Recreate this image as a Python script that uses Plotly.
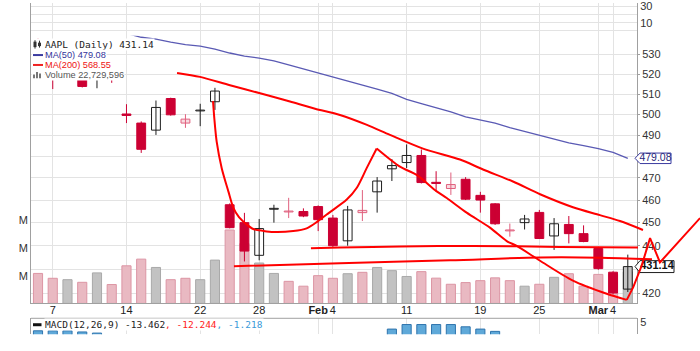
import math
import plotly.graph_objects as go

# ---------------- data ----------------
dates = ["2013-01-04", "2013-01-07", "2013-01-08", "2013-01-09", "2013-01-10", "2013-01-11",
         "2013-01-14", "2013-01-15", "2013-01-16", "2013-01-17", "2013-01-18", "2013-01-22",
         "2013-01-23", "2013-01-24", "2013-01-25", "2013-01-28", "2013-01-29", "2013-01-30",
         "2013-01-31", "2013-02-01", "2013-02-04", "2013-02-05", "2013-02-06", "2013-02-07",
         "2013-02-08", "2013-02-11", "2013-02-12", "2013-02-13", "2013-02-14", "2013-02-15",
         "2013-02-19", "2013-02-20", "2013-02-21", "2013-02-22", "2013-02-25", "2013-02-26",
         "2013-02-27", "2013-02-28", "2013-03-01", "2013-03-04", "2013-03-05"]

opens = [537.0, 526.0, 529.0, 522.5, 528.5, 520.5,
         500.2, 495.8, 492.4, 507.8, 495.8, 501.7,
         506.2, 457.9, 450.0, 435.9, 455.9, 454.7,
         454.9, 457.1, 452.0, 442.1, 454.4, 463.7,
         474.2, 477.1, 480.4, 468.0, 465.2, 469.4,
         462.1, 458.3, 446.4, 450.0, 454.5, 444.2,
         449.2, 445.2, 438.8, 428.8, 421.8]
highs = [538.6, 529.0, 530.0, 523.0, 529.0, 521.0,
         505.0, 496.6, 506.8, 508.2, 500.1, 505.2,
         513.1, 458.5, 454.3, 451.6, 457.9, 461.0,
         456.3, 457.6, 453.4, 457.4, 464.5, 470.4,
         478.7, 485.6, 483.2, 473.1, 472.5, 470.4,
         463.7, 458.6, 449.6, 453.4, 455.6, 452.0,
         452.9, 448.8, 439.5, 429.2, 436.2]
lows = [526.6, 512.5, 519.0, 513.3, 512.9, 515.6,
        495.8, 481.6, 490.1, 499.4, 493.5, 494.3,
        502.2, 447.5, 433.3, 433.8, 450.0, 452.0,
        452.4, 446.3, 439.5, 440.0, 450.7, 454.4,
        468.6, 474.6, 467.5, 463.7, 462.3, 460.0,
        454.4, 449.0, 443.9, 447.0, 443.0, 438.2,
        441.0, 441.5, 429.8, 419.6, 420.6]
closes = [527.0, 523.9, 525.3, 513.8, 523.5, 519.8,
          499.5, 483.3, 503.4, 499.8, 497.7, 502.1,
          511.5, 447.8, 437.7, 447.4, 456.3, 455.1,
          452.9, 451.3, 440.0, 455.6, 455.4, 468.6,
          475.7, 480.4, 467.9, 467.5, 467.0, 460.4,
          460.0, 449.5, 446.8, 451.6, 443.1, 449.5,
          445.2, 441.8, 430.3, 420.2, 431.14]
prior_close = 542.1

volumes = [21600000, 18100000, 17100000, 15200000, 22000000, 13600000,
           27100000, 31900000, 25900000, 17100000, 18100000, 17100000,
           31200000, 52900000, 43100000, 29100000, 21600000, 15900000,
           12400000, 20000000, 18100000, 21400000, 22400000, 25900000,
           23600000, 19400000, 22900000, 18200000, 13800000, 15000000,
           16400000, 18400000, 16400000, 12400000, 13800000, 18800000,
           21400000, 12400000, 20900000, 21000000, 22729596]

ma50 = [549.0, 547.8, 546.5, 545.2, 543.8, 542.2,
        541.0, 539.0, 538.0, 536.4, 535.1, 534.4,
        532.8, 530.8, 529.2, 528.2, 526.7, 524.7,
        522.7, 520.6, 518.6, 516.7, 514.7, 512.5,
        510.3, 507.4, 505.3, 503.3, 501.2, 498.8,
        497.2, 495.8, 493.6, 491.8, 489.9, 488.0,
        486.3, 485.0, 483.6, 481.8, 479.08]
ma200_last = 568.55

macd_hist = [3.5, 3.5, 3.5, 3.3, 3.1, 2.5,
             1.2, -0.5, -0.8, -1.2, -1.5, -1.6,
             -1.2, -5.5, -8.0, -8.5, -7.8, -6.5,
             -5.2, -4.0, -3.5, -1.5, 0.2, 1.8,
             3.8, 4.6, 4.6, 4.6, 4.6, 4.2,
             3.8, 3.4, 2.6, 2.2, 1.5, 1.0,
             0.6, 0.2, -0.3, -0.9, -1.218]
macd_line_last = -13.462
macd_signal_last = -12.244

tick_days = [1, 6, 11, 15, 19, 20, 25, 30, 34, 38, 39]
tick_text = ["7", "14", "22", "28", "<b>Feb</b>", "4", "11", "19", "25", "<b>Mar</b>", "4"]
price_ticks = [420, 430, 440, 450, 460, 470, 480, 490, 500, 510, 520, 530]
hidden_price_ticks = [430, 480]
volume_ticks_m = [20, 40, 60]
top_ticks = [0, 10, 20, 30]
top_tick_text = ["", "10", "", "30"]
macd_ticks = [5]

# hand-drawn red sketch lines: (trading-day index, price)
sketch_upper = [(9.43, 520.6), (10.99, 518.6), (13.02, 514.4), (15.06, 510.4), (17.09, 506.3),
                (18.79, 502.8), (20.48, 499.7), (22.31, 494.9), (23.87, 490.1), (26.11, 483.6),
                (28.62, 478.5), (30.18, 473.9), (32.21, 468.4), (34.05, 462.6), (36.28, 456.8),
                (38.11, 453.3), (39.47, 450.7), (41.03, 446.8)]
sketch_rise = [(11.87, 506.5), (11.96, 497.9), (12.12, 486.8), (12.46, 474.5), (12.91, 463.9),
               (13.25, 456.5), (13.63, 452.4), (14.15, 449.2), (14.60, 447.2), (15.28, 446.4),
               (15.96, 445.9), (17.31, 446.3), (18.22, 447.5), (18.90, 450.2), (19.58, 453.6),
               (20.94, 460.2), (21.61, 465.4), (22.29, 474.5), (22.97, 483.7)]
sketch_fall = [(22.97, 483.7), (24.55, 475.2), (25.68, 471.4), (27.04, 463.9), (27.72, 460.9),
               (29.07, 454.4), (30.65, 447.8), (31.79, 442.0), (32.47, 439.9), (34.05, 433.6),
               (36.28, 425.3), (38.57, 419.9), (39.93, 417.4)]
sketch_zigzag = [(39.93, 417.4), (40.37, 422.6), (40.94, 431.5), (41.51, 443.3),
                 (42.18, 432.9), (44.90, 452.0)]
sketch_support = [(18.51, 438.9), (20.48, 439.2), (24.55, 439.7), (29.50, 439.9),
                  (35.40, 439.5), (40.69, 439.2)]
sketch_base = [(13.29, 431.3), (20.48, 432.6), (27.94, 433.8), (34.05, 435.0),
               (38.11, 434.9), (41.64, 434.2)]

# ---------------- geometry / style ----------------
W, H = 700, 351
PLOT_L, PLOT_R = 31.0, 637.0
DAY0_PX, DAY_PX = 38.0, 14.745
REF_P, REF_Y, PX_PER_LN = 530.0, 52.0, 1036.0
TOP_PANEL = (0.0, 33.0)
PRICE_PANEL = (33.0, 303.0)
MACD_PANEL = (318.0, 334.0)
VOL_PX_PER_M = 1.40
TOP_Y30, TOP_PX_PER_UNIT = 3.3, 0.83
MACD_Y5, MACD_PX_PER_UNIT = 322.0, 5.75
LN10 = math.log(10)

GRID = "#e3e3e3"
AXC = "#a0a0a0"
TXT = "#333333"
RED = "#cc0033"
PINK = "#e0607e"
PINK_FILL = "#f8dbe1"
BLACK = "#1e1e1e"
MA50_C = "#5a5ab4"
SKETCH = "#ff0000"
SANS = "Liberation Sans"
MONO = "DejaVu Sans Mono"


def day_at(px):
    return (px - DAY0_PX) / DAY_PX


def log_at(py):
    return math.log10(REF_P) + (REF_Y - py) / (PX_PER_LN * LN10)


def dom(top, bot):
    return [1 - bot / H, 1 - top / H]


def shift(price, dpx):
    return price * math.exp(dpx / PX_PER_LN)


def px(x):
    return x / W


def py(y):
    return 1 - y / H


idx = list(range(len(dates)))
n = len(idx)

# classify candles
up_day, hollow = [], []
for i in idx:
    pc = prior_close if i == 0 else closes[i - 1]
    up_day.append(closes[i] >= pc)
    hollow.append(closes[i] > opens[i])

traces = []

# volume bars
vol_m = [v / 1e6 for v in volumes]
vol_fill = ["#c2c2c2" if u else "#e9b9c2" for u in up_day]
vol_line = ["#a9a9a9" if u else "#dc95a4" for u in up_day]
traces.append(go.Bar(x=idx, y=vol_m, xaxis="x", yaxis="y", width=0.62,
                     marker=dict(color=vol_fill, line=dict(color=vol_line, width=1)),
                     hoverinfo="skip"))

# top panel placeholder (keeps the panel and its grid)
traces.append(go.Scatter(x=[None], y=[None], xaxis="x", yaxis="y3", mode="lines",
                         hoverinfo="skip"))

# MACD histogram
traces.append(go.Bar(x=idx, y=macd_hist, xaxis="x", yaxis="y4", width=0.62,
                     marker=dict(color="#5fa9d9", line=dict(color="#2f74ad", width=1)),
                     hoverinfo="skip"))

# candle groups
groups = {}
for i in idx:
    if i == n - 1:
        key = "current"
    elif up_day[i]:
        key = "up_hollow" if hollow[i] else "up_filled"
    else:
        key = "down_hollow" if hollow[i] else "down_filled"
    groups.setdefault(key, []).append(i)

style = {
    "up_hollow": ("white", BLACK, BLACK),
    "up_filled": (BLACK, BLACK, BLACK),
    "down_hollow": (PINK_FILL, PINK, PINK),
    "down_filled": (RED, RED, RED),
    "current": ("#c4c4c4", BLACK, BLACK),
}

for key, members in groups.items():
    fill, line, wick = style[key]
    wx, wy = [], []
    for i in members:
        wx += [i, i, None]
        wy += [lows[i], highs[i], None]
    traces.append(go.Scatter(x=wx, y=wy, xaxis="x", yaxis="y2", mode="lines",
                             line=dict(color=wick, width=1), hoverinfo="skip"))

for key, members in groups.items():
    fill, line, wick = style[key]
    base = [min(opens[i], closes[i]) for i in members]
    size = [max(abs(closes[i] - opens[i]), 0.15) for i in members]
    traces.append(go.Bar(x=members, y=size, base=base, xaxis="x", yaxis="y2", width=0.6,
                         marker=dict(color=fill, line=dict(color=line, width=1)),
                         hoverinfo="skip"))

# moving average
traces.append(go.Scatter(x=idx, y=ma50, xaxis="x", yaxis="y2", mode="lines",
                         line=dict(color=MA50_C, width=1.3), hoverinfo="skip"))


# price tags on the overlay axes
def tag(price, tip, left, right, half):
    xs = [tip, left, right, right, left, tip]
    dys = [0, half, half, -half, -half, 0]
    return [day_at(x) for x in xs], [shift(price, d) for d in dys]


tx, ty = tag(ma50[-1], 635, 640, 671, 5.3)
traces.append(go.Scatter(x=tx, y=ty, xaxis="x5", yaxis="y5", mode="lines", fill="toself",
                         fillcolor="white", line=dict(color="#3b3ba0", width=1),
                         hoverinfo="skip"))
traces.append(go.Scatter(x=[day_at(655.5)], y=[ma50[-1]], xaxis="x5", yaxis="y5", mode="text",
                         text=[f"{ma50[-1]:.2f}"],
                         textfont=dict(family=SANS, size=10.5, color="#27277a"),
                         hoverinfo="skip"))
tx, ty = tag(closes[-1], 635, 640, 674, 6.0)
traces.append(go.Scatter(x=tx, y=ty, xaxis="x5", yaxis="y5", mode="lines", fill="toself",
                         fillcolor="white", line=dict(color=BLACK, width=1),
                         hoverinfo="skip"))
traces.append(go.Scatter(x=[day_at(657)], y=[closes[-1]], xaxis="x5", yaxis="y5", mode="text",
                         text=[f"<b>{closes[-1]:.2f}</b>"],
                         textfont=dict(family=SANS, size=11, color="#111111"),
                         hoverinfo="skip"))


def sketch(points, shape):
    return go.Scatter(x=[p[0] for p in points], y=[p[1] for p in points],
                      xaxis="x5", yaxis="y5", mode="lines",
                      line=dict(color=SKETCH, width=2, shape=shape, smoothing=0.8),
                      hoverinfo="skip")


traces.append(sketch(sketch_upper, "spline"))
traces.append(sketch(sketch_rise, "spline"))
traces.append(sketch(sketch_fall, "spline"))
traces.append(sketch(sketch_zigzag, "linear"))
traces.append(sketch(sketch_support, "spline"))
traces.append(sketch(sketch_base, "spline"))

fig = go.Figure(data=traces)

tickfont = dict(family=SANS, size=11, color=TXT)
price_labels = ["" if p in hidden_price_ticks else str(p) for p in price_ticks]

fig.update_layout(
    width=W, height=H, autosize=False,
    margin=dict(l=0, r=0, t=0, b=0, pad=0),
    paper_bgcolor="white", plot_bgcolor="rgba(0,0,0,0)",
    showlegend=False, barmode="overlay",
    font=dict(family=SANS, size=11, color=TXT),
    xaxis=dict(domain=[PLOT_L / W, PLOT_R / W], range=[day_at(PLOT_L), day_at(PLOT_R)],
               tickmode="array", tickvals=tick_days, ticktext=tick_text, tickangle=0,
               showgrid=True, gridcolor=GRID, gridwidth=1, zeroline=False,
               showline=True, linecolor=AXC, ticks="", anchor="y",
               ticklabelstandoff=-4,
               tickfont=dict(family=SANS, size=11, color="#222222")),
    yaxis=dict(domain=dom(*PRICE_PANEL),
               range=[0, (PRICE_PANEL[1] - PRICE_PANEL[0]) / VOL_PX_PER_M],
               tickmode="array", tickvals=volume_ticks_m, ticktext=["M"] * len(volume_ticks_m),
               side="left", anchor="x", showgrid=False, zeroline=False,
               showline=True, linecolor=AXC, ticks="", tickfont=tickfont),
    yaxis2=dict(overlaying="y", type="log", side="right", anchor="x",
                range=[log_at(PRICE_PANEL[1]), log_at(PRICE_PANEL[0])],
                tickmode="array", tickvals=price_ticks, ticktext=price_labels,
                showgrid=True, gridcolor=GRID, zeroline=False,
                showline=True, linecolor=AXC, ticks="outside", ticklen=2, tickcolor=AXC,
                tickfont=tickfont),
    yaxis3=dict(domain=dom(*TOP_PANEL), side="right", anchor="x",
                range=[30 - (TOP_PANEL[1] - TOP_Y30) / TOP_PX_PER_UNIT,
                       30 + (TOP_Y30 - TOP_PANEL[0]) / TOP_PX_PER_UNIT],
                tickmode="array", tickvals=top_ticks, ticktext=top_tick_text,
                showgrid=True, gridcolor=GRID, zeroline=False, ticklabeloverflow="allow",
                showline=True, mirror=True, linecolor=AXC, ticks="", tickfont=tickfont),
    yaxis4=dict(domain=dom(*MACD_PANEL), side="right", anchor="x",
                range=[5 - (MACD_PANEL[1] - MACD_Y5) / MACD_PX_PER_UNIT,
                       5 + (MACD_Y5 - MACD_PANEL[0]) / MACD_PX_PER_UNIT],
                tickmode="array", tickvals=macd_ticks, ticktext=[str(t) for t in macd_ticks],
                showgrid=False, zeroline=False, ticklabeloverflow="allow",
                showline=True, mirror=True, linecolor=AXC, ticks="", tickfont=tickfont),
    xaxis5=dict(domain=[0, 1], range=[day_at(0), day_at(W)], visible=False, anchor="y5"),
    yaxis5=dict(domain=[0, 1], type="log", range=[log_at(H), log_at(0)], visible=False,
                anchor="x5"),
)

shapes = [
    # MACD panel top border
    dict(type="line", xref="paper", yref="paper", x0=px(PLOT_L), x1=px(PLOT_R),
         y0=py(MACD_PANEL[0]), y1=py(MACD_PANEL[0]), line=dict(color=AXC, width=1),
         layer="above"),
    # legend icon column background
    dict(type="rect", xref="paper", yref="paper", x0=px(31.6), x1=px(44), y0=py(78.5), y1=py(35.5),
         fillcolor="white", line=dict(width=0), layer="above"),
    # candle icon
    dict(type="line", xref="paper", yref="paper", x0=px(35), x1=px(35), y0=py(46), y1=py(37.5),
         line=dict(color="#333", width=1), layer="above"),
    dict(type="rect", xref="paper", yref="paper", x0=px(33.5), x1=px(36.5), y0=py(44.5), y1=py(39),
         fillcolor="#333", line=dict(width=0), layer="above"),
    dict(type="line", xref="paper", yref="paper", x0=px(39.5), x1=px(39.5), y0=py(45), y1=py(38),
         line=dict(color="#333", width=1), layer="above"),
    dict(type="rect", xref="paper", yref="paper", x0=px(38), x1=px(41), y0=py(43.5), y1=py(40),
         fillcolor="#333", line=dict(width=0), layer="above"),
    # MA icons
    dict(type="line", xref="paper", yref="paper", x0=px(33), x1=px(43), y0=py(52.5), y1=py(52.5),
         line=dict(color="#3b3ba0", width=2), layer="above"),
    dict(type="line", xref="paper", yref="paper", x0=px(33), x1=px(43), y0=py(62.5), y1=py(62.5),
         line=dict(color="#ee2222", width=2), layer="above"),
    # volume icon
    dict(type="rect", xref="paper", yref="paper", x0=px(33), x1=px(35), y0=py(76), y1=py(72),
         fillcolor="#777", line=dict(width=0), layer="above"),
    dict(type="rect", xref="paper", yref="paper", x0=px(36), x1=px(38), y0=py(76), y1=py(69.5),
         fillcolor="#777", line=dict(width=0), layer="above"),
    dict(type="rect", xref="paper", yref="paper", x0=px(39), x1=px(41), y0=py(76), y1=py(71),
         fillcolor="#777", line=dict(width=0), layer="above"),
    # MACD icon
    dict(type="line", xref="paper", yref="paper", x0=px(33), x1=px(41.5), y0=py(324.5), y1=py(324.5),
         line=dict(color="#111", width=3), layer="above"),
]
fig.update_layout(shapes=shapes)


def ann(text, x, y, size, color, family):
    return dict(text=text, x=px(x), y=py(y), xref="paper", yref="paper",
                xanchor="left", yanchor="middle", showarrow=False,
                font=dict(size=size, color=color, family=family),
                bgcolor="white", borderpad=0)


annotations = [
    ann(f"AAPL (Daily) {closes[-1]:.2f}", 43.5, 41.5, 9.5, "#222222", MONO),
    ann(f"MA(50) {ma50[-1]:.2f}", 43.5, 52.6, 9.2, "#33339a", SANS),
    ann(f"MA(200) {ma200_last:.2f}", 43.5, 62.6, 9.2, "#ee1111", SANS),
    ann(f"Volume {volumes[-1]:,}", 43.5, 72.3, 9.2, "#555555", SANS),
    ann(f"MACD(12,26,9) {macd_line_last:.3f}"
        f"<span style='color:#ff2222'>, {macd_signal_last:.3f}</span>"
        f"<span style='color:#3a9ad9'>, {macd_hist[-1]:.3f}</span>",
        43.5, 324.5, 9.5, "#222222", MONO),
]
fig.update_layout(annotations=annotations)

fig.write_html("out.html")
